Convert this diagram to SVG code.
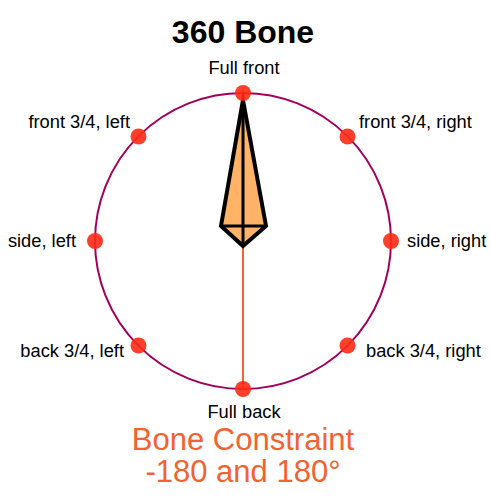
<svg xmlns="http://www.w3.org/2000/svg" width="491" height="500" viewBox="0 0 491 500">
<style>
.lbl{font-family:"Liberation Sans",Arial,sans-serif;font-size:18.3px;fill:#000}
.title{font-family:"Liberation Sans",Arial,sans-serif;font-size:32px;font-weight:bold;fill:#000}
.con{font-family:"Liberation Sans",Arial,sans-serif;font-size:31px;fill:#F26232}
.dot{fill:#FF2A14;fill-opacity:0.9}
</style>
<rect width="491" height="500" fill="#fff"/>
<text class="title" x="243" y="43" text-anchor="middle">360 Bone</text>
<g id="ring"><circle cx="243" cy="241" r="148" fill="none" stroke="#A3005C" stroke-width="2"/></g>
<g id="connectors"><line x1="243" y1="245" x2="243" y2="389" stroke="#F26232" stroke-width="2"/></g>
<g id="bone">
<polygon points="243,100 266,226 243,246 221,226" fill="#FFB366" stroke="#000" stroke-width="4" stroke-linejoin="miter" stroke-miterlimit="20"/>
<line x1="243" y1="102" x2="243" y2="246" stroke="#000" stroke-width="3"/>
<line x1="221" y1="226" x2="266" y2="226" stroke="#000" stroke-width="3"/>
</g>
<g id="n-full-front"><circle class="dot" cx="243" cy="93" r="8"/><text class="lbl" x="244" y="74" text-anchor="middle">Full front</text></g>
<g id="n-front-left"><circle class="dot" cx="138.5" cy="136.5" r="8"/><text class="lbl" x="130" y="128" text-anchor="end">front 3/4, left</text></g>
<g id="n-front-right"><circle class="dot" cx="347.5" cy="136.5" r="8"/><text class="lbl" x="359" y="128">front 3/4, right</text></g>
<g id="n-side-left"><circle class="dot" cx="95" cy="241" r="8"/><text class="lbl" x="76" y="247" text-anchor="end">side, left</text></g>
<g id="n-side-right"><circle class="dot" cx="391" cy="241" r="8"/><text class="lbl" x="407" y="247">side, right</text></g>
<g id="n-back-left"><circle class="dot" cx="138.5" cy="345.5" r="8"/><text class="lbl" x="124" y="357" text-anchor="end">back 3/4, left</text></g>
<g id="n-back-right"><circle class="dot" cx="347.5" cy="345.5" r="8"/><text class="lbl" x="366" y="357">back 3/4, right</text></g>
<g id="n-full-back"><circle class="dot" cx="243" cy="389" r="8"/><text class="lbl" x="244" y="418" text-anchor="middle">Full back</text></g>
<text class="con" x="243" y="450" text-anchor="middle">Bone Constraint</text>
<text class="con" x="243" y="482" text-anchor="middle">-180 and 180°</text>
</svg>
